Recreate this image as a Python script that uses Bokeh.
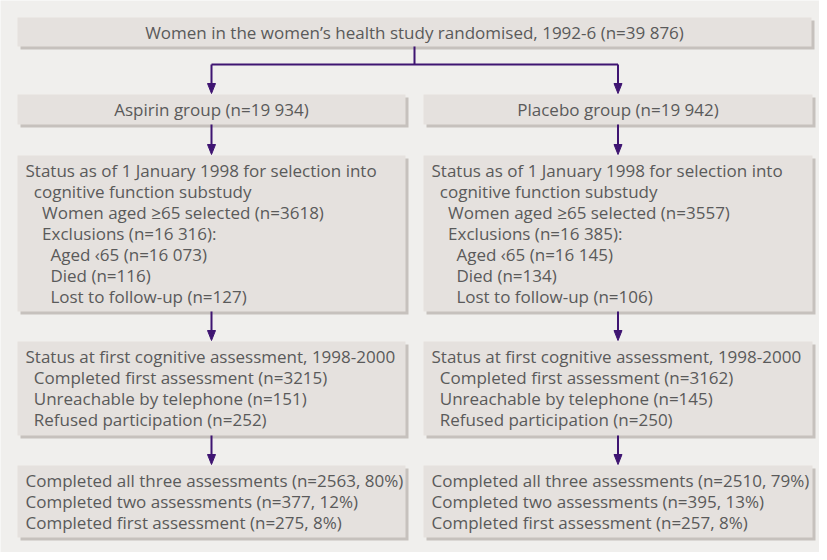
from bokeh.plotting import figure
from bokeh.models import Range1d, ColumnDataSource
from bokeh.core.properties import value
from bokeh.embed import file_html
from bokeh.resources import INLINE

# ---------------- data ----------------
total_randomised = 39876
group_names = ["Aspirin group", "Placebo group"]
group_n = [19934, 19942]
selected_65 = [3618, 3557]
exclusions = [16316, 16385]
aged_under_65 = [16073, 16145]
died = [116, 134]
lost_followup = [127, 106]
completed_first = [3215, 3162]
unreachable = [151, 145]
refused = [252, 250]
all_three_n = [2563, 2510]
all_three_pct = [80, 79]
two_n = [377, 395]
two_pct = [12, 13]
first_only_n = [275, 257]
first_only_pct = [8, 8]


def fmt(n):
    s = str(n)
    if len(s) >= 5:
        s = s[:-3] + " " + s[-3:]
    return s


# ---------------- style / layout ----------------
FONT = "Open Sans"
FSIZE = "17px"
TXT = "#5a5a5a"
PANEL = "#f0efed"
BOX = "#e5e1de"
SHADOW = "#c6c1bd"
ARROW = "#3f1572"
LH = 21.0

cols = [(25, 413), (431, 820)]
top_box = (25, 819, 25, 54)
rows = {"group": (102, 132), "status": (163, 319), "first": (349, 443), "final": (473, 545)}

p = figure(width=819, height=552, x_range=Range1d(8, 827), y_range=Range1d(560, 8),
           output_backend="svg", toolbar_location=None, min_border=0)
p.axis.visible = False
p.grid.visible = False
p.outline_line_color = None
p.background_fill_color = PANEL
p.border_fill_color = PANEL

# boxes
boxes_l, boxes_r, boxes_t, boxes_b = [top_box[0]], [top_box[1]], [top_box[2]], [top_box[3]]
for (l, r) in cols:
    for key in ["group", "status", "first", "final"]:
        t, b = rows[key]
        boxes_l.append(l); boxes_r.append(r); boxes_t.append(t); boxes_b.append(b)
p.quad(left=[v + 3 for v in boxes_l], right=[v + 3 for v in boxes_r],
       top=[v + 3 for v in boxes_t], bottom=[v + 3 for v in boxes_b],
       fill_color=SHADOW, line_color=None)
p.quad(left=boxes_l, right=boxes_r, top=boxes_t, bottom=boxes_b,
       fill_color=BOX, line_color=None)

# connectors
top_cx = (top_box[0] + top_box[1]) / 2
col_cx = [(l + r) / 2 for (l, r) in cols]
split_y = 72
p.line([top_cx, top_cx], [top_box[3], split_y], line_color=ARROW, line_width=2)
p.line([col_cx[0], col_cx[1]], [split_y, split_y], line_color=ARROW, line_width=2)
HEAD_L, HEAD_W = 11, 8
seg_x, seg_y0, seg_y1, hx, hy = [], [], [], [], []
for cx in col_cx:
    links = [(split_y, rows["group"][0]), (rows["group"][1], rows["status"][0]),
             (rows["status"][1], rows["first"][0]), (rows["first"][1], rows["final"][0])]
    for (y0, y1) in links:
        seg_x.append(cx); seg_y0.append(y0); seg_y1.append(y1 - HEAD_L + 1)
        hx.append([cx - HEAD_W / 2, cx + HEAD_W / 2, cx])
        hy.append([y1 - HEAD_L, y1 - HEAD_L, y1 - 1])
p.segment(x0=seg_x, y0=seg_y0, x1=seg_x, y1=seg_y1, line_color=ARROW, line_width=2)
p.patches(hx, hy, fill_color=ARROW, line_color=ARROW, line_width=1)

# texts
tx, ty, tt, ta = [], [], [], []
tx.append(top_cx); ty.append(39.5)
tt.append(f"Women in the women\u2019s health study randomised, 1992-6 (n={fmt(total_randomised)})")
ta.append("center")
IND = 8.3
for i, (l, r) in enumerate(cols):
    tx.append(col_cx[i]); ty.append(117)
    tt.append(f"{group_names[i]} (n={fmt(group_n[i])})"); ta.append("center")
    status_lines = [
        (0, "Status as of 1 January 1998 for selection into"),
        (1, "cognitive function substudy"),
        (2, f"Women aged \u226565 selected (n={fmt(selected_65[i])})"),
        (2, f"Exclusions (n={fmt(exclusions[i])}):"),
        (3, f"Aged \u203965 (n={fmt(aged_under_65[i])})"),
        (3, f"Died (n={fmt(died[i])})"),
        (3, f"Lost to follow-up (n={fmt(lost_followup[i])})"),
    ]
    first_lines = [
        (0, "Status at first cognitive assessment, 1998-2000"),
        (1, f"Completed first assessment (n={fmt(completed_first[i])})"),
        (1, f"Unreachable by telephone (n={fmt(unreachable[i])})"),
        (1, f"Refused participation (n={fmt(refused[i])})"),
    ]
    final_lines = [
        (0, f"Completed all three assessments (n={fmt(all_three_n[i])}, {all_three_pct[i]}%)"),
        (0, f"Completed two assessments (n={fmt(two_n[i])}, {two_pct[i]}%)"),
        (0, f"Completed first assessment (n={fmt(first_only_n[i])}, {first_only_pct[i]}%)"),
    ]
    for key, lines in [("status", status_lines), ("first", first_lines), ("final", final_lines)]:
        t0 = rows[key][0] + 14.5
        for k, (lev, s) in enumerate(lines):
            tx.append(l + 8 + lev * IND); ty.append(t0 + k * LH); tt.append(s); ta.append("left")

src = ColumnDataSource(dict(x=tx, y=ty, text=tt, align=ta))
p.text(x="x", y="y", text="text", text_align="align", source=src,
       text_font=value(FONT), text_font_size=FSIZE, text_color=TXT, text_baseline="middle")

open("out.html", "w").write(file_html(p, INLINE))
